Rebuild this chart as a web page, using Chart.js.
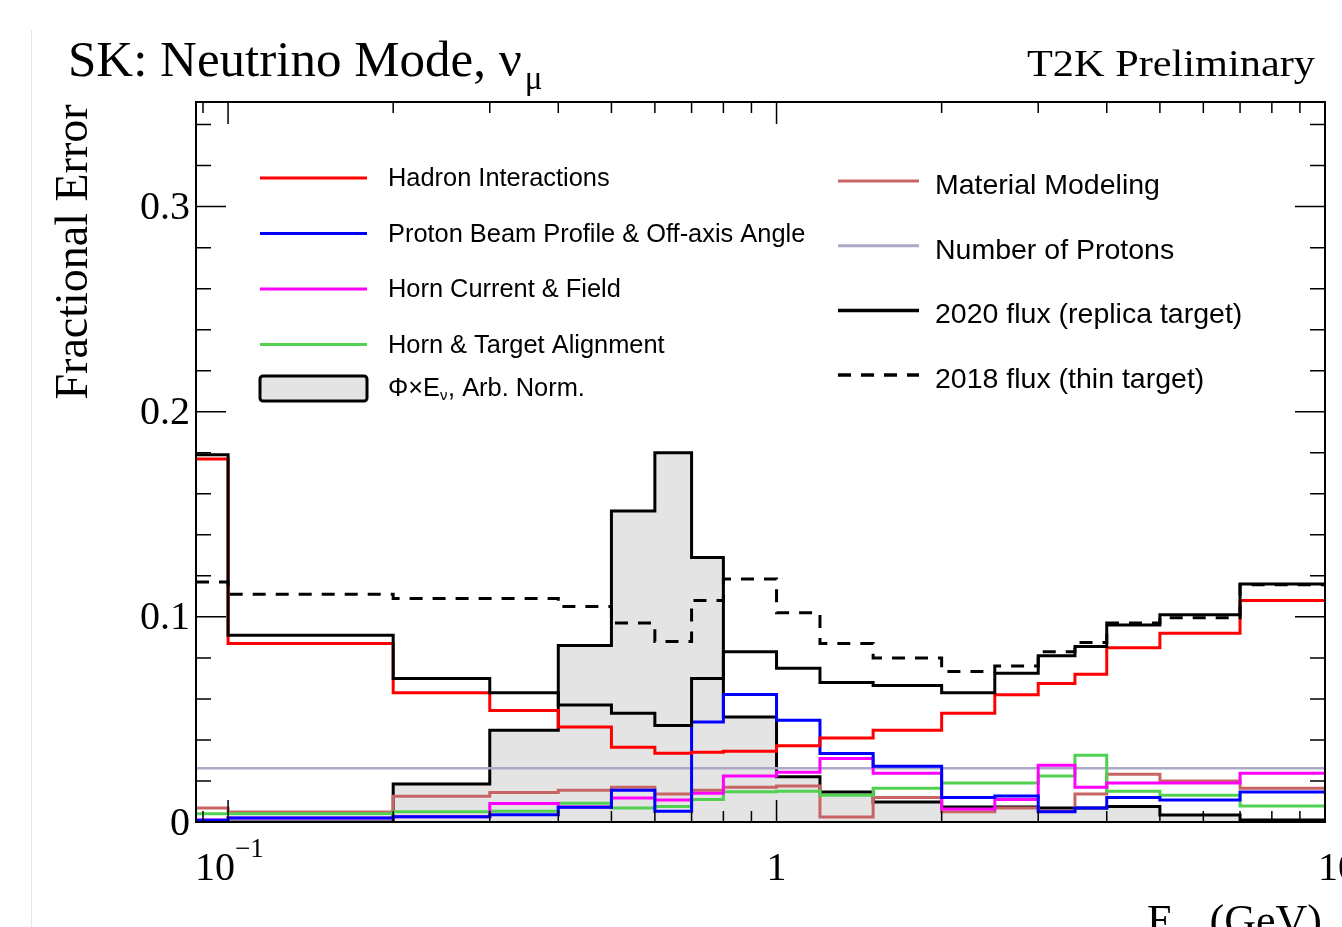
<!DOCTYPE html>
<html>
<head>
<meta charset="utf-8">
<script src="https://cdn.jsdelivr.net/npm/chart.js@4"></script>
<style>
  body { margin: 0; background: #fff; }
  canvas { display: block; }
</style>
</head>
<body>
<canvas id="fluxErr" width="1342" height="927"></canvas>
<script>
// bin edges in GeV (first edge = left side of the frame)
var edges = [0.0874, 0.1, 0.2, 0.3, 0.4, 0.5, 0.6, 0.7, 0.8, 1.0, 1.2, 1.5, 2.0, 2.5, 3.0, 3.5, 4.0, 5.0, 7.0, 10.0];

var hadron   = [0.177, 0.087, 0.063, 0.0544, 0.0463, 0.0365, 0.0335, 0.034, 0.0345, 0.0372, 0.041, 0.0447, 0.053, 0.062, 0.0675, 0.072, 0.085, 0.092, 0.108];
var beam     = [0.0008, 0.002, 0.0025, 0.0035, 0.0072, 0.0155, 0.0053, 0.0487, 0.0622, 0.0496, 0.0334, 0.0272, 0.012, 0.0127, 0.005, 0.0068, 0.012, 0.0107, 0.0146];
var hornCur  = [0.001, 0.002, 0.0025, 0.009, 0.0073, 0.0117, 0.0107, 0.014, 0.0224, 0.0243, 0.031, 0.0238, 0.0063, 0.011, 0.0277, 0.017, 0.019, 0.019, 0.0238];
var hornAlign= [0.004, 0.004, 0.005, 0.0053, 0.0092, 0.0068, 0.0076, 0.011, 0.0147, 0.015, 0.013, 0.0165, 0.019, 0.019, 0.0224, 0.0326, 0.015, 0.013, 0.0078];
var material = [0.0068, 0.0049, 0.0126, 0.0144, 0.0155, 0.017, 0.0136, 0.0155, 0.017, 0.0175, 0.0024, 0.012, 0.005, 0.0068, 0.0053, 0.0136, 0.0233, 0.020, 0.0165];
var protons  = [0.0262, 0.0262, 0.0262, 0.0262, 0.0262, 0.0262, 0.0262, 0.0262, 0.0262, 0.0262, 0.0262, 0.0262, 0.0262, 0.0262, 0.0262, 0.0262, 0.0262, 0.0262, 0.0262];
var total2020= [0.179, 0.091, 0.070, 0.063, 0.057, 0.053, 0.047, 0.070, 0.083, 0.075, 0.068, 0.0666, 0.063, 0.0725, 0.081, 0.0855, 0.096, 0.101, 0.116];
var total2018= [0.117, 0.111, 0.109, 0.109, 0.105, 0.097, 0.088, 0.108, 0.1185, 0.102, 0.087, 0.080, 0.0734, 0.076, 0.083, 0.0875, 0.097, 0.0996, 0.1157];
var fluxShape= [0, 0, 0.0185, 0.0447, 0.086, 0.1516, 0.180, 0.129, 0.0512, 0.022, 0.0146, 0.0097, 0.0073, 0.0073, 0.0068, 0.0068, 0.0075, 0.0034, 0.001];

var yTickLabels = ['0', '0.1', '0.2', '0.3'];

// turn bin contents into points for a stepped line
function hist(vals) {
    var pts = vals.map(function (v, i) { return { x: edges[i], y: v }; });
    pts.push({ x: edges[edges.length - 1], y: vals[vals.length - 1] });
    return pts;
}

function line(label, vals, color, order, extra) {
    var ds = {
        label: label,
        data: hist(vals),
        borderColor: color,
        borderWidth: 3,
        stepped: true,
        pointRadius: 0,
        fill: false,
        order: order
    };
    for (var k in extra) ds[k] = extra[k];
    return ds;
}

var datasets = [
    line('Flux', fluxShape, '#000', 20, { fill: 'origin', backgroundColor: 'rgb(228,228,228)', borderWidth: 3 }),
    line('Number of Protons', protons, 'rgb(170,170,200)', 9, { borderWidth: 2.5 }),
    line('Material Modeling', material, 'rgb(200,100,100)', 8),
    line('Horn & Target Alignment', hornAlign, 'rgb(80,210,80)', 7),
    line('Horn Current & Field', hornCur, '#ff00ff', 6),
    line('Proton Beam Profile & Off-axis Angle', beam, '#0000ff', 5),
    line('Hadron Interactions', hadron, '#ff0000', 4),
    line('2018 flux (thin target)', total2018, '#000', 3, { borderDash: [13, 10] }),
    line('2020 flux (replica target)', total2020, '#000', 2)
];

var legendLeft = [
    { text: 'Hadron Interactions', color: '#ff0000' },
    { text: 'Proton Beam Profile & Off-axis Angle', color: '#0000ff' },
    { text: 'Horn Current & Field', color: '#ff00ff' },
    { text: 'Horn & Target Alignment', color: 'rgb(80,210,80)' }
];
var legendRight = [
    { text: 'Material Modeling', color: 'rgb(200,100,100)', w: 3 },
    { text: 'Number of Protons', color: 'rgb(170,170,200)', w: 3 },
    { text: '2020 flux (replica target)', color: '#000', w: 3.5 },
    { text: '2018 flux (thin target)', color: '#000', w: 3.5, dash: [13, 10] }
];

var serif = '"Liberation Serif", "Times New Roman", serif';
var sans = '"Liberation Sans", Arial, sans-serif';

// text squeezed/stretched to a given width
function fitText(ctx, text, x, y, width) {
    var w = ctx.measureText(text).width;
    ctx.save();
    ctx.translate(x, y);
    ctx.scale(width / w, 1);
    ctx.fillText(text, 0, 0);
    ctx.restore();
}

var rootStyle = {
    id: 'rootStyle',
    afterDatasetsDraw: function (chart) {
        var ctx = chart.ctx, a = chart.chartArea;
        var xs = chart.scales.x, ys = chart.scales.y;
        ctx.save();
        ctx.strokeStyle = '#000';
        ctx.lineWidth = 2;
        ctx.strokeRect(a.left, a.top, a.right - a.left, a.bottom - a.top);

        ctx.lineWidth = 1.5;
        ctx.beginPath();
        // log x ticks, top and bottom, pointing inwards
        for (var d = -2; d <= 1; d++) {
            for (var k = 1; k <= 9; k++) {
                var v = k * Math.pow(10, d);
                if (v < xs.min - 1e-9 || v > xs.max + 1e-9) continue;
                var px = xs.getPixelForValue(v);
                var len = k === 1 ? 22 : 11;
                ctx.moveTo(px, a.bottom); ctx.lineTo(px, a.bottom - len);
                ctx.moveTo(px, a.top); ctx.lineTo(px, a.top + len);
            }
        }
        // y ticks, left and right
        for (var i = 0; i * 0.02 <= ys.max; i++) {
            var py = ys.getPixelForValue(i * 0.02);
            var l = i % 5 === 0 ? 30 : 15;
            ctx.moveTo(a.left, py); ctx.lineTo(a.left + l, py);
            ctx.moveTo(a.right, py); ctx.lineTo(a.right - l, py);
        }
        ctx.stroke();
        ctx.restore();
    },
    afterDraw: function (chart) {
        var ctx = chart.ctx, a = chart.chartArea;
        var xs = chart.scales.x, ys = chart.scales.y;
        ctx.save();
        ctx.fillStyle = '#000';

        // faint page edge on the left
        ctx.strokeStyle = '#e6e6e6';
        ctx.lineWidth = 1;
        ctx.beginPath(); ctx.moveTo(31.5, 30); ctx.lineTo(31.5, 927); ctx.stroke();

        // title
        ctx.font = '51px ' + serif;
        ctx.textBaseline = 'alphabetic';
        ctx.textAlign = 'left';
        ctx.fillText('SK: Neutrino Mode, \u03bd', 68, 76);
        var tw = ctx.measureText('SK: Neutrino Mode, \u03bd').width;
        ctx.font = '33px ' + serif;
        ctx.fillText('\u03bc', 68 + tw + 3, 89);

        ctx.font = '38px ' + serif;
        ctx.textAlign = 'left';
        fitText(ctx, 'T2K Preliminary', 1027, 76, 288);

        // y tick labels
        ctx.font = '40px ' + serif;
        ctx.textAlign = 'right';
        ctx.textBaseline = 'middle';
        yTickLabels.forEach(function (t) {
            ctx.fillText(t, 190, ys.getPixelForValue(parseFloat(t)) + 2);
        });

        // x tick labels
        ctx.textBaseline = 'alphabetic';
        ctx.textAlign = 'left';
        var p01 = xs.getPixelForValue(0.1);
        ctx.fillText('10', p01 - 33, 880);
        ctx.font = '27px ' + serif;
        ctx.fillText('\u22121', p01 + 7, 857);
        ctx.font = '40px ' + serif;
        ctx.textAlign = 'center';
        ctx.fillText('1', xs.getPixelForValue(1), 880);
        ctx.textAlign = 'left';
        ctx.fillText('10', xs.getPixelForValue(10) - 7, 880);

        // x axis title
        ctx.font = '44px ' + serif;
        ctx.fillText('E', 1147, 935);
        ctx.font = '28px ' + serif;
        ctx.fillText('\u03bd', 1176, 945);
        ctx.font = '44px ' + serif;
        ctx.textAlign = 'right';
        ctx.fillText('(GeV)', 1322, 935);
        ctx.textAlign = 'left';

        // y axis title
        ctx.save();
        ctx.translate(87, 252);
        ctx.rotate(-Math.PI / 2);
        ctx.textAlign = 'center';
        ctx.font = '46px ' + serif;
        ctx.fillText('Fractional Error', 0, 0);
        ctx.restore();

        // legend, left column
        ctx.textAlign = 'left';
        ctx.textBaseline = 'middle';
        ctx.font = '25.4px ' + sans;
        legendLeft.forEach(function (it, i) {
            var y = 178 + i * 55.5;
            ctx.strokeStyle = it.color;
            ctx.lineWidth = 3;
            ctx.beginPath(); ctx.moveTo(260, y); ctx.lineTo(367, y); ctx.stroke();
            ctx.fillStyle = '#000';
            ctx.fillText(it.text, 388, y + 1);
        });
        ctx.fillStyle = 'rgb(228,228,228)';
        ctx.strokeStyle = '#000';
        ctx.lineWidth = 3;
        ctx.beginPath();
        ctx.roundRect(260, 376, 107, 25, 3);
        ctx.fill(); ctx.stroke();
        ctx.fillStyle = '#000';
        ctx.fillText('\u03a6\u00d7E', 388, 389);
        var pw = ctx.measureText('\u03a6\u00d7E').width;
        ctx.font = '15px ' + sans;
        ctx.fillText('\u03bd', 388 + pw, 396);
        ctx.font = '25.4px ' + sans;
        ctx.fillText(', Arb. Norm.', 388 + pw + 8, 389);

        // legend, right column
        ctx.font = '28.5px ' + sans;
        legendRight.forEach(function (it, i) {
            var y = 181 + i * 64.7;
            ctx.strokeStyle = it.color;
            ctx.lineWidth = it.w;
            ctx.setLineDash(it.dash || []);
            ctx.beginPath(); ctx.moveTo(838, y); ctx.lineTo(919, y); ctx.stroke();
            ctx.setLineDash([]);
            ctx.fillStyle = '#000';
            ctx.fillText(it.text, 935, y + 5);
        });
        ctx.restore();
    }
};

var chart = new Chart(document.getElementById('fluxErr').getContext('2d'), {
    type: 'line',
    data: { datasets: datasets },
    options: {
        responsive: false,
        animation: false,
        layout: { padding: { left: 196, right: 17, top: 102, bottom: 105 } },
        plugins: { legend: { display: false }, tooltip: { enabled: false } },
        scales: {
            x: { type: 'logarithmic', min: 0.0874, max: 10, display: false },
            y: { type: 'linear', min: 0, max: 0.351, display: false }
        }
    },
    plugins: [rootStyle]
});
</script>
</body>
</html>
